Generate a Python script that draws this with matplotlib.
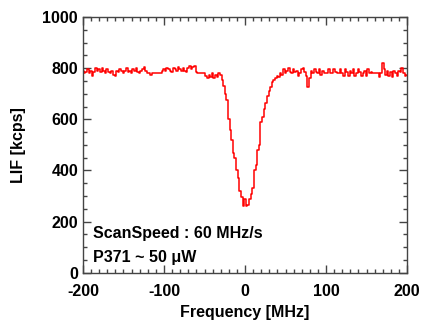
import matplotlib
matplotlib.use("Agg")
import matplotlib.pyplot as plt
import numpy as np
from matplotlib.ticker import MultipleLocator

plt.rcParams['font.family'] = ['Liberation Sans', 'DejaVu Sans']
plt.rcParams['font.weight'] = 'bold'
plt.rcParams['axes.unicode_minus'] = False

# frequency grid (MHz) and LIF signal (kcps)
freq = np.arange(-200, 201, 2)
lif = [
    790, 780, 785, 795, 780, 790, 770, 785, 800, 790,
    795, 785, 800, 790, 780, 795, 785, 780, 790, 775,
    770, 790, 785, 795, 790, 780, 790, 800, 785, 790,
    780, 795, 790, 800, 785, 780, 790, 795, 805, 790,
    780, 780, 775, 780, 780, 780, 780, 780, 780, 790,
    795, 790, 800, 795, 790, 785, 800, 795, 790, 805,
    795, 790, 800, 790, 785, 800, 810, 795, 805, 810,
    785, 780, 780, 780, 780, 780, 770, 760, 775, 765,
    780, 760, 775, 765, 780, 775, 755, 730, 700, 675,
    600, 560, 520, 470, 450, 400, 370, 320, 295, 260,
    290, 260, 265, 290, 310, 330, 400, 420, 480, 500,
    590, 610, 640, 665, 690, 710, 725, 745, 755, 760,
    770, 765, 780, 775, 795, 780, 790, 800, 785, 780,
    795, 785, 790, 770, 780, 795, 800, 785, 770, 725,
    760, 790, 780, 795, 785, 780, 795, 775, 790, 780,
    780, 780, 795, 780, 780, 795, 785, 780, 780, 795,
    780, 770, 795, 785, 770, 790, 780, 795, 770, 780,
    795, 785, 770, 780, 790, 770, 795, 780, 785, 780,
    780, 780, 780, 765, 780, 820, 795, 775, 790, 770,
    785, 765, 790, 780, 770, 790, 785, 800, 780, 770,
    775,
]

fig = plt.figure(figsize=(4.21, 3.26), dpi=100)
ax = fig.add_axes([0.197, 0.163, 0.770, 0.785])

ax.plot(freq, lif, color='red', lw=1.1, drawstyle='steps-mid')

ax.set_xlim(-200, 200)
ax.set_ylim(0, 1000)
ax.xaxis.set_major_locator(MultipleLocator(100))
ax.xaxis.set_minor_locator(MultipleLocator(10))
ax.yaxis.set_major_locator(MultipleLocator(200))
ax.yaxis.set_minor_locator(MultipleLocator(50))
ax.tick_params(which='both', direction='in', top=True, right=True,
               labelsize=11.5, colors='#444444', labelcolor='black', width=1)
ax.tick_params(which='major', length=6)
ax.tick_params(which='minor', length=3)
ax.tick_params(axis='x', pad=8)
for s in ax.spines.values():
    s.set_color('#444444')
    s.set_linewidth(1)

ax.set_xlabel('Frequency [MHz]', fontsize=11.5, fontweight='bold', labelpad=4)
ax.set_ylabel('LIF [kcps]', fontsize=11.5, fontweight='bold', labelpad=12)

ax.text(-188, 137, 'ScanSpeed : 60 MHz/s', fontsize=11.5, fontweight='bold')
ax.text(-188, 43, 'P371 ~ 50 μW', fontsize=11.5, fontweight='bold')

fig.savefig('out.png', dpi=100)
